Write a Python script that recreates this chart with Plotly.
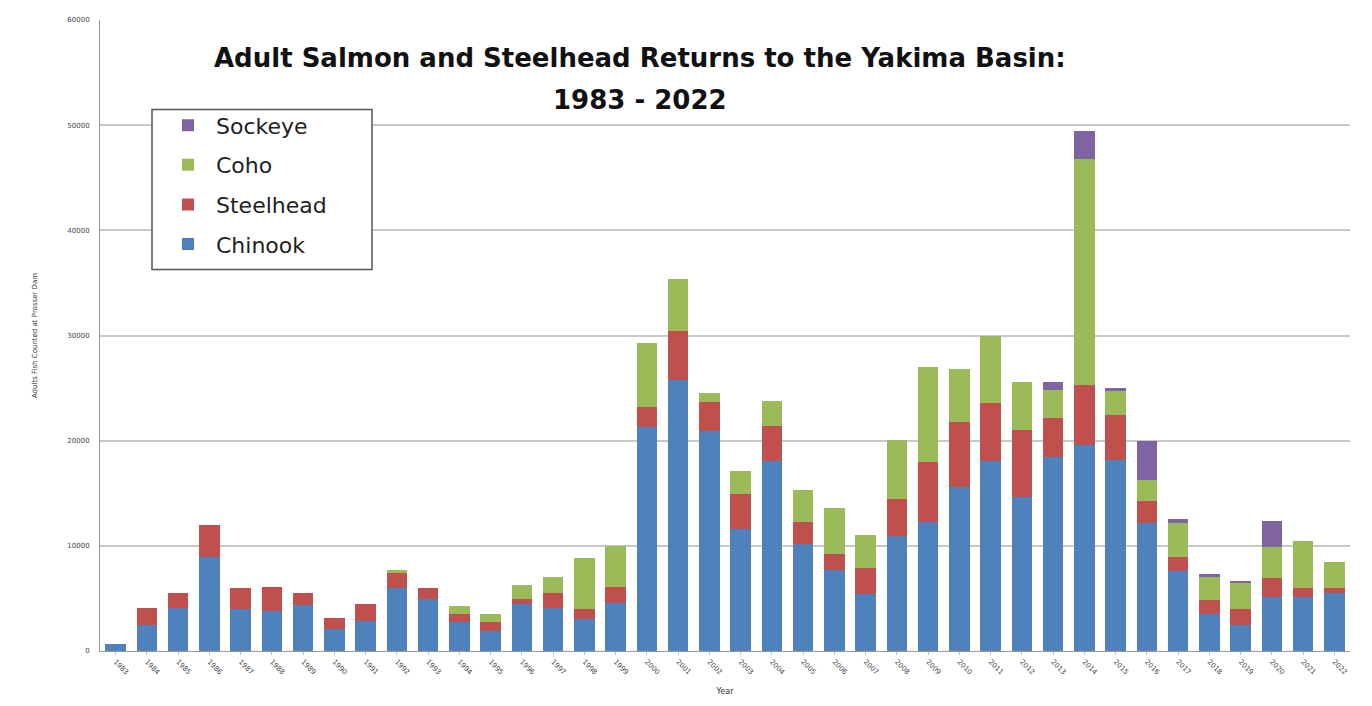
import plotly.graph_objects as go

years = [str(y) for y in range(1983, 2023)]

chinook = [700, 2450, 4070, 8950, 3970, 3810, 4380, 2060, 2860, 6030,
           4920, 2790, 1900, 4510, 4120, 3020, 4600, 21270, 25780, 20890,
           11590, 18100, 10220, 7680, 5400, 10950, 12220, 15560, 18100, 14650,
           18490, 19600, 18160, 12140, 7560, 3510, 2440, 5180, 5180, 5520]
steelhead = [0, 1620, 1420, 3020, 2030, 2310, 1110, 1080, 1650, 1340,
             1050, 760, 860, 470, 1430, 1010, 1500, 1900, 4630, 2760,
             3330, 3270, 2070, 1530, 2540, 3490, 5720, 6190, 5460, 6350,
             3680, 5680, 4250, 2170, 1400, 1340, 1510, 1780, 840, 500]
coho = [0, 0, 0, 0, 0, 0, 0, 0, 0, 300,
        0, 700, 730, 1270, 1470, 4800, 3900, 6100, 4990, 860,
        2220, 2380, 3040, 4380, 3080, 5620, 9040, 5080, 6440, 4580,
        2680, 21480, 2270, 1910, 3180, 2170, 2570, 2940, 4450, 2440]
sockeye = [0, 0, 0, 0, 0, 0, 0, 0, 0, 0,
           0, 0, 0, 0, 0, 0, 0, 0, 0, 0,
           0, 0, 0, 0, 0, 0, 0, 0, 0, 0,
           730, 2670, 340, 3710, 440, 270, 60, 2470, 0, 0]

series = [("Chinook", chinook, "#4F81BD", 4),
          ("Steelhead", steelhead, "#C0504D", 3),
          ("Coho", coho, "#9BBB59", 2),
          ("Sockeye", sockeye, "#8064A2", 1)]

fig = go.Figure()
for name, vals, col, rank in series:
    fig.add_trace(go.Bar(x=years, y=vals, name=name, marker_color=col,
                         marker_line_width=0, legendgroup=name, legendrank=rank))

T, B = 8, 63
H = 706 - T - B
W = 1250


def px(xp):
    return (xp - 100) / W


def py(yp):
    return (651 - yp) / H


fig.update_layout(
    barmode="stack",
    bargap=0.35,
    width=1372, height=706,
    margin=dict(l=92, r=30, t=T, b=B),
    paper_bgcolor="white", plot_bgcolor="white",
    font=dict(family="DejaVu Sans, sans-serif", color="#222"),
    showlegend=True,
    legend=dict(x=px(160), y=py(101), xanchor="left", yanchor="top",
                traceorder="grouped", tracegroupgap=8,
                itemwidth=46,
                borderwidth=0, bgcolor="rgba(255,255,255,0)",
                font=dict(size=22, family="DejaVu Sans, sans-serif", color="#222")),
    shapes=[dict(type="rect", xref="paper", yref="paper",
                 x0=px(152), x1=px(372), y0=py(267), y1=py(106),
                 line=dict(color="#555", width=1.5), fillcolor="white", layer="above")],
    annotations=[
        dict(text="<b>Adult Salmon and Steelhead Returns to the Yakima Basin:</b>",
             xref="paper", yref="paper", x=px(640), y=py(54),
             xanchor="center", yanchor="middle", showarrow=False,
             font=dict(size=26, family="DejaVu Sans, sans-serif", color="#111")),
        dict(text="<b>1983 - 2022</b>",
             xref="paper", yref="paper", x=px(640), y=py(97),
             xanchor="center", yanchor="middle", showarrow=False,
             font=dict(size=26, family="DejaVu Sans, sans-serif", color="#111")),
    ],
)

fig.update_xaxes(
    type="category",
    tickangle=45,
    tickfont=dict(size=7, color="#444"),
    showline=True, linecolor="#999", linewidth=1,
    ticks="outside", ticklen=3, tickcolor="#bbb",
    title=dict(text="Year", font=dict(size=8, color="#333"), standoff=12),
)
fig.update_yaxes(
    range=[0, 60000],
    dtick=10000,
    tickformat="d",
    tickfont=dict(size=7, color="#444"),
    ticklabelstandoff=8,
    showgrid=True, gridcolor="#C8C8C8", gridwidth=1.5,
    showline=True, linecolor="#999", linewidth=1,
    zeroline=False,
    title=dict(text="Adults Fish Counted at Prosser Dam", font=dict(size=7, color="#333"), standoff=28),
)

fig.write_html("out.html")
